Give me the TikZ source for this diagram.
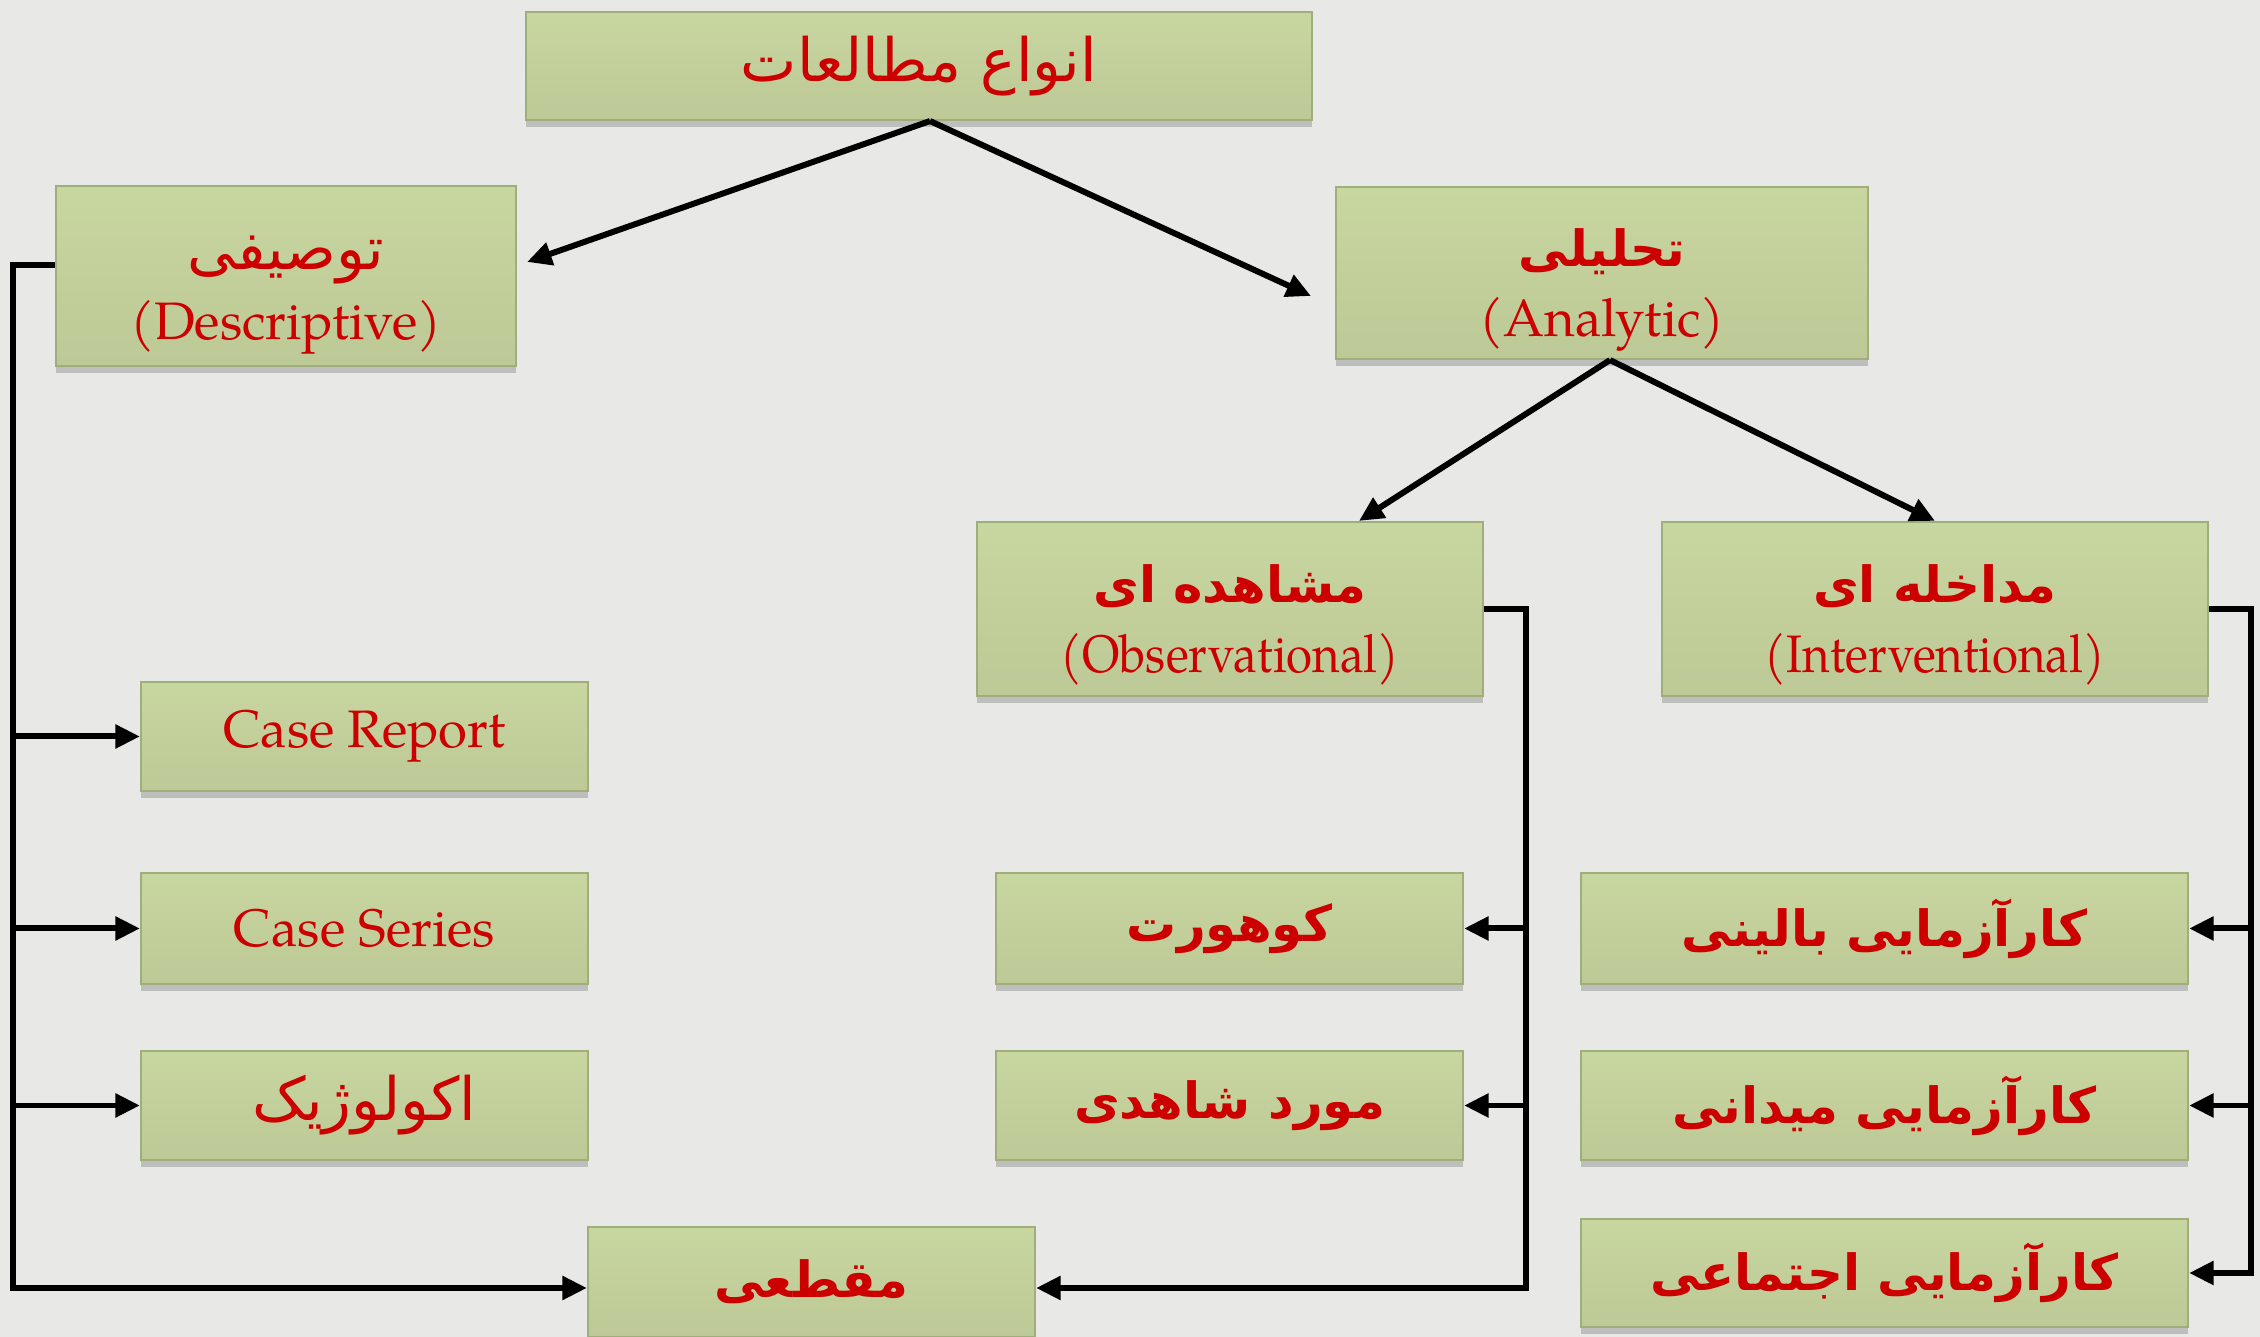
\documentclass[tikz,border=0pt]{standalone}
\usepackage{fontspec}
\setmainfont{TeX Gyre Pagella}
\newfontfamily\farsifont[Script=Arabic]{DejaVu Sans}
\TeXXeTstate=1
\usepackage{xcolor}
\usepackage{graphicx}
\usepackage{tikz}
\usetikzlibrary{arrows.meta, positioning, shadows}

\definecolor{paper}{HTML}{E8E8E6}
\definecolor{boxtop}{HTML}{C8D6A0}
\definecolor{boxlow}{HTML}{BDC996}
\definecolor{boxedge}{HTML}{9FAE7A}
\definecolor{textred}{HTML}{CC0000}

\newcommand{\fa}[1]{{\fontsize{17}{20}\selectfont\farsifont\beginR #1\endR}}
\newcommand{\fab}[1]{{\fontsize{14.2}{20}\selectfont\farsifont\bfseries\beginR #1\endR}}
\newcommand{\twoline}[2]{\raisebox{0pt}[\dimexpr\height+1.15mm\relax][\dimexpr\depth-1.15mm\relax]{\begin{tabular}{@{}c@{}}#1\\[-4pt]#2\end{tabular}}}

\tikzset{
  studybox/.style={draw=boxedge, line width=0.6pt, top color=boxtop, bottom color=boxlow,
    drop shadow={shadow xshift=0pt, shadow yshift=-0.7mm, opacity=0.4},
    text=textred, inner sep=0pt, font=\fontsize{15}{24}\selectfont},
  link/.style={line width=1.7pt, -{Triangle[length=7pt, width=6.5pt]}}
}

\begin{document}
\begin{tikzpicture}
				% Paper:
				\fill[paper] (0, 0) rectangle (22.6, 13.37);
				\useasboundingbox (0, 0) rectangle (22.6, 13.37);
				
				% Boxes:
				\node[studybox, minimum width=7.86cm, minimum height=1.08cm] (types) at (9.19, 12.71){\fa{انواع مطالعات}};
				\node[studybox, minimum width=4.60cm, minimum height=1.80cm] (desc) at (2.86, 10.61){\twoline{\fa{توصیفی}}{(Descriptive)}};
				\node[studybox, minimum width=5.32cm, minimum height=1.72cm] (anal) at (16.02, 10.64){\twoline{\fab{تحلیلی}}{(Analytic)}};
				\node[studybox, minimum width=5.06cm, minimum height=1.74cm] (obs) at (12.30, 7.28){\twoline{\fab{مشاهده ای}}{\scalebox{0.9}[1]{(Observational)}}};
				\node[studybox, minimum width=5.46cm, minimum height=1.74cm] (intv) at (19.35, 7.28){\twoline{\fab{مداخله ای}}{\scalebox{0.9}[1]{(Interventional)}}};
				
				\node[studybox, minimum width=4.47cm, minimum height=1.09cm] (crep) at (3.645, 6.005){Case Report};
				\node[studybox, minimum width=4.47cm, minimum height=1.11cm] (cser) at (3.645, 4.085){Case Series};
				\node[studybox, minimum width=4.47cm, minimum height=1.09cm] (ecol) at (3.645, 2.315){\fa{اکولوژیک}};
				\node[studybox, minimum width=4.47cm, minimum height=1.10cm] (cross) at (8.115, 0.55){\fab{مقطعی}};
				
				\node[studybox, minimum width=4.67cm, minimum height=1.11cm] (coh) at (12.295, 4.085){\fab{کوهورت}};
				\node[studybox, minimum width=4.67cm, minimum height=1.09cm] (cc) at (12.295, 2.315){\fab{مورد شاهدی}};
				
				\node[studybox, minimum width=6.07cm, minimum height=1.11cm] (clin) at (18.845, 4.085){\fab{کارآزمایی بالینی}};
				\node[studybox, minimum width=6.07cm, minimum height=1.09cm] (field) at (18.845, 2.315){\fab{کارآزمایی میدانی}};
				\node[studybox, minimum width=6.07cm, minimum height=1.08cm] (comm) at (18.845, 0.64){\fab{کارآزمایی اجتماعی}};
				
				% Tree arrows:
				\coordinate (ttop) at ([xshift=0.11cm]types.south);
				\coordinate (atop) at ([xshift=0.08cm]anal.south);
				\draw[link] (ttop) -- ([xshift=0.1cm, yshift=0.14cm]desc.east);
				\draw[link] (ttop) -- ([xshift=-0.24cm, yshift=-0.23cm]anal.west);
				\draw[link] (atop) -- ([xshift=1.29cm]obs.north);
				\draw[link] (atop) -- (intv.north);
				
				% Bus lines:
				\coordinate (lbus) at (0.13, 0);
				\coordinate (mbus) at (15.26, 0);
				\coordinate (rbus) at (22.51, 0);
				\coordinate (dout) at ([yshift=0.11cm]desc.west);
				\coordinate (cin) at ([yshift=-0.06cm]cross.west);
				\coordinate (cout) at ([yshift=-0.06cm]cross.east);
				
				\draw[link] (dout) -- (lbus |- dout) |- (cin);
				\foreach \n in {crep, cser, ecol}
					\draw[link] (lbus |- \n.west) -- (\n.west);
				
				\draw[link] (obs.east) -- (mbus |- obs.east) |- (cout);
				\foreach \n in {coh, cc}
					\draw[link] (mbus |- \n.east) -- (\n.east);
				
				\draw[link] (intv.east) -- (rbus |- intv.east) |- (comm.east);
				\foreach \n in {clin, field}
					\draw[link] (rbus |- \n.east) -- (\n.east);
			\end{tikzpicture}
\end{document}
